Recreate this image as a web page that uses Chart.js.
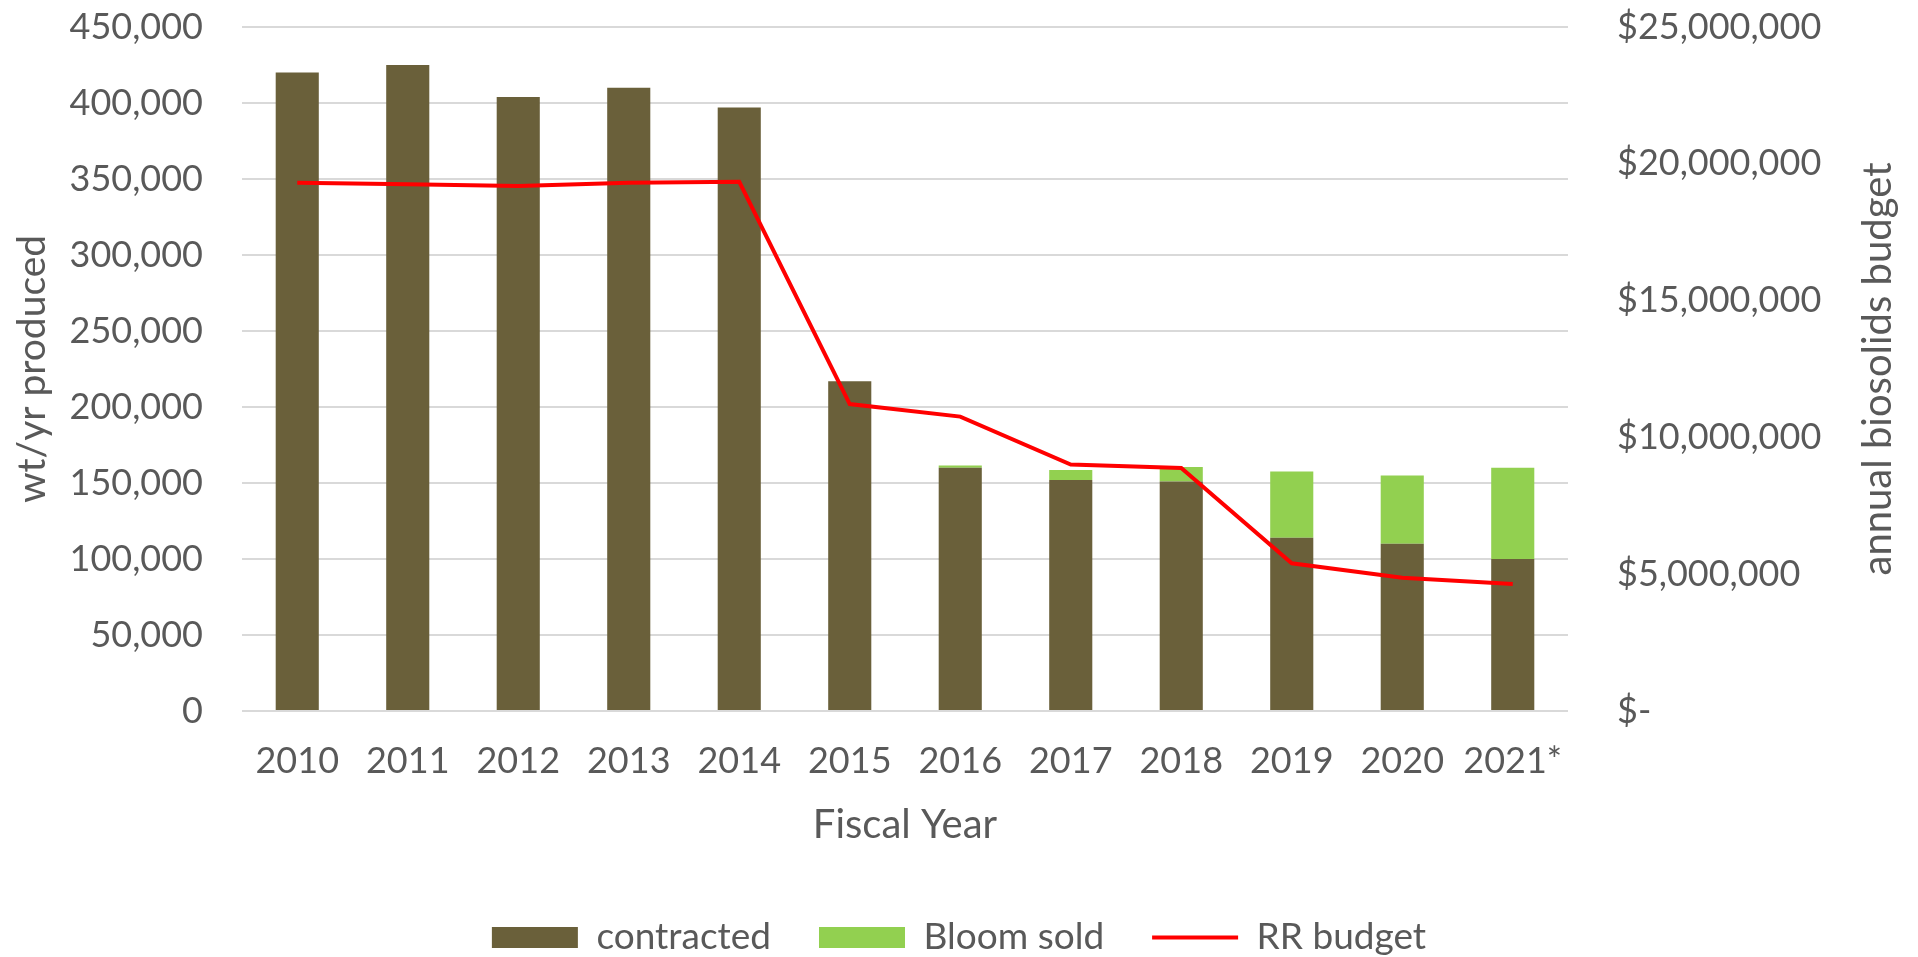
<!DOCTYPE html>
<html>
<head>
<meta charset="utf-8">
<script src="https://cdn.jsdelivr.net/npm/chart.js@4.4.1/dist/chart.umd.min.js"></script>
<style>
  html, body { margin: 0; padding: 0; background: #fff; }
</style>
</head>
<body>
<canvas id="budgetChart" width="1918" height="957"></canvas>
<script>
const years = ['2010', '2011', '2012', '2013', '2014', '2015', '2016', '2017', '2018', '2019', '2020', '2021*'];
const contracted = [420000, 425000, 404000, 410000, 397000, 217000, 160000, 152000, 151000, 114000, 110000, 100000];
const bloomSold = [0, 0, 0, 0, 0, 0, 1500, 6500, 9500, 43500, 45000, 60000];
const rrBudget = [19310000, 19250000, 19190000, 19310000, 19340000, 11220000, 10760000, 9010000, 8880000, 5400000, 4870000, 4640000];

const textColor = '#595959';
Chart.defaults.font.family = 'Lato';
Chart.defaults.color = textColor;

// right axis title reads bottom-to-top like the Excel original
const rightTitle = {
    id: 'rightTitle',
    afterDraw(chart) {
        const c = chart.ctx;
        const area = chart.chartArea;
        const s = chart.scales.y1;
        c.save();
        c.translate(s.right - 40, (area.top + area.bottom) / 2);
        c.rotate(-Math.PI / 2);
        c.font = '40px Lato';
        c.fillStyle = textColor;
        c.textAlign = 'center';
        c.textBaseline = 'middle';
        c.fillText('annual biosolids budget', 0, 0);
        c.restore();
    }
};

// wide gaps between legend items without a tall legend box
const legendHeight = {
    id: 'legendHeight',
    beforeInit(chart) {
        const fit = chart.legend.fit;
        chart.legend.fit = function() {
            fit.call(this);
            this.height = 86;
        };
    }
};

// fixed axis sizes so the plot sits where the original one does
function sideAxis(width) {
    return function(scale) {
        scale.width = width;
        scale.paddingTop = 0;
        scale.paddingBottom = 0;
    };
}

const ctx = document.getElementById('budgetChart').getContext('2d');
const data = {
    labels: years,
    datasets: [
        {
            type: 'bar',
            label: 'contracted',
            data: contracted,
            backgroundColor: '#6A603A',
            yAxisID: 'y',
            order: 1
        },
        {
            type: 'bar',
            label: 'Bloom sold',
            data: bloomSold,
            backgroundColor: '#92D050',
            yAxisID: 'y',
            order: 1
        },
        {
            type: 'line',
            label: 'RR budget',
            data: rrBudget,
            borderColor: '#FF0000',
            backgroundColor: '#FF0000',
            borderWidth: 4,
            pointRadius: 0,
            tension: 0,
            yAxisID: 'y1',
            order: 0
        }
    ]
};

const config = {
    data: data,
    options: {
        responsive: false,
        animation: false,
        layout: {
            padding: { top: 27, left: 0, right: 0, bottom: 0 }
        },
        datasets: {
            bar: { barPercentage: 0.39, categoryPercentage: 1 }
        },
        scales: {
            x: {
                stacked: true,
                grid: { display: false },
                border: { display: false },
                ticks: { font: { size: 36 }, padding: 21, maxRotation: 0, autoSkip: false },
                title: { display: true, text: 'Fiscal Year', font: { size: 40 }, padding: { top: 0, bottom: 22 } },
                afterFit: function(scale) { scale.height = 160; }
            },
            y: {
                stacked: true,
                position: 'left',
                min: 0,
                max: 450000,
                ticks: {
                    stepSize: 50000,
                    font: { size: 36 },
                    padding: 39,
                    callback: function(v) { return v.toLocaleString('en-US'); }
                },
                grid: { color: '#D9D9D9', lineWidth: 2, drawTicks: false },
                border: { display: false },
                title: { display: true, text: 'wt/yr produced', font: { size: 39 }, padding: { top: 9, bottom: 0 } },
                afterFit: sideAxis(242)
            },
            y1: {
                position: 'right',
                min: 0,
                max: 25000000,
                ticks: {
                    stepSize: 5000000,
                    font: { size: 36 },
                    padding: 49,
                    callback: function(v) { return v === 0 ? '$-' : '$' + v.toLocaleString('en-US'); }
                },
                grid: { display: false, drawTicks: false },
                border: { display: false },
                afterFit: sideAxis(350)
            }
        },
        plugins: {
            legend: {
                position: 'bottom',
                labels: {
                    font: { size: 37 },
                    color: textColor,
                    usePointStyle: true,
                    pointStyleWidth: 86,
                    boxHeight: 21,
                    padding: 48,
                    sort: function(a, b) { return a.datasetIndex - b.datasetIndex; },
                    generateLabels: function(chart) {
                        const items = Chart.defaults.plugins.legend.labels.generateLabels(chart);
                        items.forEach(function(item) {
                            const ds = chart.data.datasets[item.datasetIndex];
                            item.pointStyle = ds.type === 'line' ? 'line' : 'rect';
                            if (ds.type !== 'line') { item.lineWidth = 0; }
                        });
                        return items;
                    }
                }
            },
            tooltip: { enabled: false }
        }
    },
    plugins: [rightTitle, legendHeight]
};

new Chart(ctx, config);
</script>
</body>
</html>
